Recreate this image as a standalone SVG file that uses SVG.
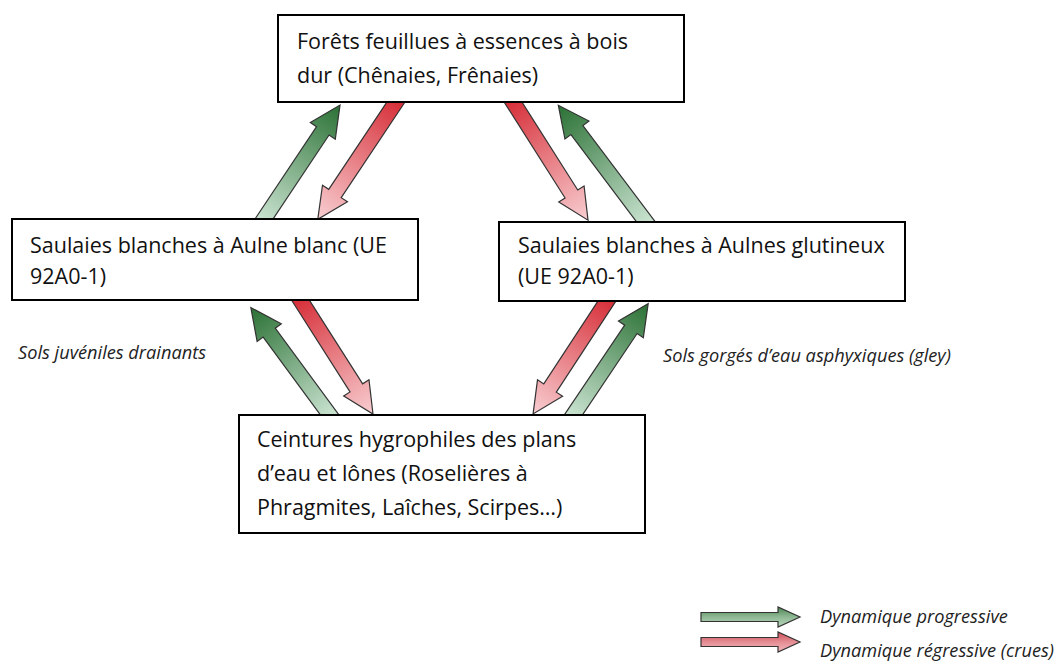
<svg xmlns="http://www.w3.org/2000/svg" width="1057" height="662" viewBox="0 0 1057 662">
<defs>
<linearGradient id="gGreen" x1="0" y1="0" x2="1" y2="0">
<stop offset="0" stop-color="#d6ecdc"/>
<stop offset="1" stop-color="#2b7135"/>
</linearGradient>
<linearGradient id="gRed" x1="0" y1="0" x2="1" y2="0">
<stop offset="0" stop-color="#d4232d"/>
<stop offset="1" stop-color="#f8ced1"/>
</linearGradient>
<linearGradient id="lGreen" x1="0" y1="0" x2="0" y2="1">
<stop offset="0" stop-color="#4c8755"/>
<stop offset="0.5" stop-color="#8fb894"/>
<stop offset="1" stop-color="#b9d6bc"/>
</linearGradient>
<linearGradient id="lRed" x1="0" y1="0" x2="0" y2="1">
<stop offset="0" stop-color="#cf4f59"/>
<stop offset="0.5" stop-color="#e58d94"/>
<stop offset="1" stop-color="#f3b9bd"/>
</linearGradient>
</defs>
<style>
.box{fill:#fff;stroke:#000;stroke-width:2}
.t{font-family:"Open Sans","Liberation Sans",sans-serif;font-size:21.5px;fill:#111}
.it{font-family:"Open Sans","Liberation Sans",sans-serif;font-size:18.2px;font-style:italic;fill:#222}
.arr{stroke:#333;stroke-width:1.2;stroke-linejoin:miter}
.pg{fill:url(#gGreen)}
.rg{fill:url(#gRed)}
</style>
<rect width="1057" height="662" fill="#fff"/>
<g id="connectors">
<path class="arr pg" transform="translate(264,219) rotate(-56.3)" d="M-14,-7.5 L106,-7.5 L106,-15 L137,0 L106,15 L106,7.5 L-14,7.5 Z"/>
<path class="arr rg" transform="translate(396,102) rotate(123.7)" d="M-14,-7.5 L110,-7.5 L110,-15 L141,0 L110,15 L110,7.5 L-14,7.5 Z"/>
<path class="arr rg" transform="translate(513,102) rotate(57.6)" d="M-14,-7.5 L109,-7.5 L109,-15 L140,0 L109,15 L109,7.5 L-14,7.5 Z"/>
<path class="arr pg" transform="translate(646,222) rotate(-126.9)" d="M-14,-7.5 L115,-7.5 L115,-15 L146,0 L115,15 L115,7.5 L-14,7.5 Z"/>
<path class="arr pg" transform="translate(329,414) rotate(-126.3)" d="M-14,-7.5 L101,-7.5 L101,-15 L132,0 L101,15 L101,7.5 L-14,7.5 Z"/>
<path class="arr rg" transform="translate(301,301) rotate(57.5)" d="M-14,-7.5 L103,-7.5 L103,-15 L134,0 L103,15 L103,7.5 L-14,7.5 Z"/>
<path class="arr rg" transform="translate(607,301) rotate(123.2)" d="M-14,-7.5 L104,-7.5 L104,-15 L135,0 L104,15 L104,7.5 L-14,7.5 Z"/>
<path class="arr pg" transform="translate(574,414) rotate(-56.1)" d="M-14,-7.5 L102,-7.5 L102,-15 L133,0 L102,15 L102,7.5 L-14,7.5 Z"/>
</g>
<g id="node-forets">
<rect class="box" x="278" y="15" width="406" height="87"/>
<text class="t" x="297" y="49">Forêts feuillues à essences à bois</text>
<text class="t" x="297" y="83">dur (Chênaies, Frênaies)</text>
</g>
<g id="node-aulne-blanc">
<rect class="box" x="12" y="219" width="406" height="81"/>
<text class="t" x="30" y="253">Saulaies blanches à Aulne blanc (UE</text>
<text class="t" x="30" y="284">92A0-1)</text>
</g>
<g id="node-aulnes-glutineux">
<rect class="box" x="499" y="222" width="406" height="79"/>
<text class="t" x="518" y="253">Saulaies blanches à Aulnes glutineux</text>
<text class="t" x="518" y="284">(UE 92A0-1)</text>
</g>
<g id="node-ceintures">
<rect class="box" x="239" y="415" width="406" height="118"/>
<text class="t" x="257" y="447">Ceintures hygrophiles des plans</text>
<text class="t" x="257" y="481">d’eau et lônes (Roselières à</text>
<text class="t" x="257" y="515">Phragmites, Laîches, Scirpes…)</text>
</g>
<g id="labels">
<text class="it" x="18" y="359">Sols juvéniles drainants</text>
<text class="it" x="663" y="362">Sols gorgés d’eau asphyxiques (gley)</text>
</g>
<g id="legend">
<path class="arr" fill="url(#lGreen)" d="M701,612.5 L778,612.5 L778,607 L800,617 L778,627 L778,621.5 L701,621.5 Z"/>
<text class="it" x="820" y="623">Dynamique progressive</text>
<path class="arr" fill="url(#lRed)" d="M701,637.5 L778,637.5 L778,632 L800,642 L778,652 L778,646.5 L701,646.5 Z"/>
<text class="it" x="820" y="657">Dynamique régressive (crues)</text>
</g>
</svg>
